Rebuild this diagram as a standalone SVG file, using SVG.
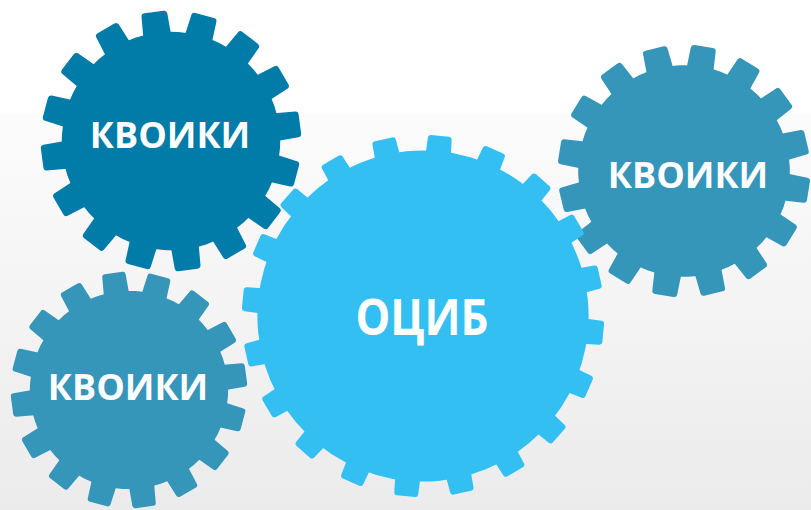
<svg xmlns="http://www.w3.org/2000/svg" xmlns:xlink="http://www.w3.org/1999/xlink" width="811" height="510" viewBox="0 0 811 510">
  <style>
    .dark { fill: #017BA7; }
    .mid { fill: #3596BA; }
    .light { fill: #33BFF2; }
    .label { font-family: "Open Sans", "Liberation Sans", sans-serif; font-weight: 700; fill: #FFFFFF; text-anchor: middle; }
  </style>
  <defs>
    <linearGradient id="bg" x1="0" y1="0" x2="0" y2="1">
      <stop offset="0" stop-color="#FFFFFF"/>
      <stop offset="0.22" stop-color="#FFFFFF"/>
      <stop offset="0.225" stop-color="#FCFCFC"/>
      <stop offset="1" stop-color="#EBEBEB"/>
    </linearGradient>
    <!-- 16-tooth gear, outer radius 100, tooth pointing up -->
    <path id="t16" d="M-10.8,-80 L-10,-97.6 Q-9.9,-100 -7.4,-100 L7.4,-100 Q9.9,-100 10,-97.6 L10.8,-80 Z"/>
    <g id="gear16">
      <circle r="84"/>
      <use href="#t16"/>
      <use href="#t16" transform="rotate(22.5)"/>
      <use href="#t16" transform="rotate(45)"/>
      <use href="#t16" transform="rotate(67.5)"/>
      <use href="#t16" transform="rotate(90)"/>
      <use href="#t16" transform="rotate(112.5)"/>
      <use href="#t16" transform="rotate(135)"/>
      <use href="#t16" transform="rotate(157.5)"/>
      <use href="#t16" transform="rotate(180)"/>
      <use href="#t16" transform="rotate(202.5)"/>
      <use href="#t16" transform="rotate(225)"/>
      <use href="#t16" transform="rotate(247.5)"/>
      <use href="#t16" transform="rotate(270)"/>
      <use href="#t16" transform="rotate(292.5)"/>
      <use href="#t16" transform="rotate(315)"/>
      <use href="#t16" transform="rotate(337.5)"/>
    </g>
    <!-- 20-tooth gear, outer radius 100, tooth pointing up -->
    <path id="t20" d="M-7,-89 L-6.6,-98.4 Q-6.5,-100 -4.9,-100 L4.9,-100 Q6.5,-100 6.6,-98.4 L7,-89 Z"/>
    <g id="gear20">
      <circle r="91.5"/>
      <use href="#t20"/>
      <use href="#t20" transform="rotate(18)"/>
      <use href="#t20" transform="rotate(36)"/>
      <use href="#t20" transform="rotate(54)"/>
      <use href="#t20" transform="rotate(72)"/>
      <use href="#t20" transform="rotate(90)"/>
      <use href="#t20" transform="rotate(108)"/>
      <use href="#t20" transform="rotate(126)"/>
      <use href="#t20" transform="rotate(144)"/>
      <use href="#t20" transform="rotate(162)"/>
      <use href="#t20" transform="rotate(180)"/>
      <use href="#t20" transform="rotate(198)"/>
      <use href="#t20" transform="rotate(216)"/>
      <use href="#t20" transform="rotate(234)"/>
      <use href="#t20" transform="rotate(252)"/>
      <use href="#t20" transform="rotate(270)"/>
      <use href="#t20" transform="rotate(288)"/>
      <use href="#t20" transform="rotate(306)"/>
      <use href="#t20" transform="rotate(324)"/>
      <use href="#t20" transform="rotate(342)"/>
    </g>
  </defs>

  <rect width="811" height="510" fill="url(#bg)"/>

  <g id="gear-top-left">
    <use href="#gear16" class="dark" transform="translate(171,141) scale(1.3) rotate(15)"/>
    <text class="label" x="170" y="148" font-size="36">КВОИКИ</text>
  </g>

  <g id="gear-right">
    <use href="#gear16" class="mid" transform="translate(684,171) scale(1.26) rotate(9)"/>
    <text class="label" x="688" y="188" font-size="36">КВОИКИ</text>
  </g>

  <g id="gear-bottom-left">
    <use href="#gear16" class="mid" transform="translate(129,390) scale(1.18) rotate(15)"/>
    <text class="label" x="128" y="400" font-size="36">КВОИКИ</text>
  </g>

  <g id="gear-center">
    <use href="#gear20" class="light" transform="translate(423,316) scale(1.81) rotate(5.4)"/>
    <text class="label" x="422" y="335" font-size="50" textLength="133" lengthAdjust="spacingAndGlyphs">ОЦИБ</text>
  </g>

  <g id="connectors"/>
</svg>
